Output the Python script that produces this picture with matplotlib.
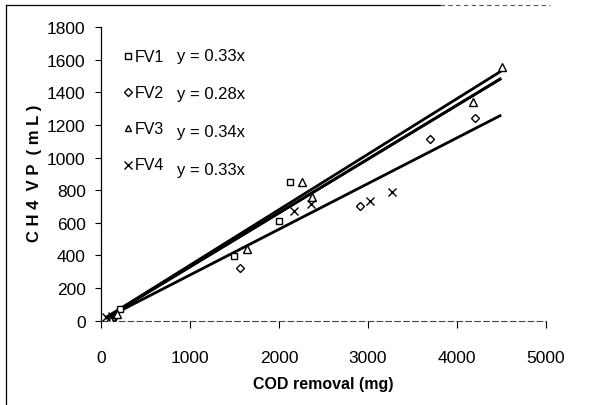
import matplotlib
matplotlib.use("Agg")
import matplotlib.pyplot as plt
from matplotlib.lines import Line2D
import numpy as np

# ---- data ----
fv1_x = [130, 210, 1500, 2000, 2120]
fv1_y = [20, 70, 397, 613, 852]
fv2_x = [150, 1566, 2907, 3694, 4200]
fv2_y = [20, 321, 705, 1114, 1243]
fv3_x = [100, 180, 1641, 2259, 2374, 4188, 4507]
fv3_y = [10, 40, 440, 852, 756, 1339, 1553]
fv4_x = [60, 120, 2173, 2365, 3027, 3271]
fv4_y = [20, 30, 674, 715, 736, 787]
series_names = ["FV1", "FV2", "FV3", "FV4"]
slopes = [0.33, 0.28, 0.34, 0.33]
equations = ["y = 0.33x", "y = 0.28x", "y = 0.34x", "y = 0.33x"]
trend_x = [50, 4500]
x_ticks = [0, 1000, 2000, 3000, 4000, 5000]
y_ticks = [0, 200, 400, 600, 800, 1000, 1200, 1400, 1600, 1800]

plt.rcParams['font.family'] = ['Liberation Sans', 'DejaVu Sans']

fig = plt.figure(figsize=(5.95, 4.06), dpi=100)
ax = fig.add_axes([101/595, 1-321.7/406, (545.7-101)/595, (321.7-28)/406])

markers = ['s', 'D', '^', 'x']
msizes = [5, 4, 5.5, 6]
data = [(fv1_x, fv1_y), (fv2_x, fv2_y), (fv3_x, fv3_y), (fv4_x, fv4_y)]

for k in slopes:
    tx = np.array(trend_x, dtype=float)
    ax.plot(tx, k*tx, color='black', lw=2.0, solid_capstyle='butt', zorder=2)
for (xs, ys), m, ms in zip(data, markers, msizes):
    if m == 'x':
        ax.plot(xs, ys, ls='none', marker=m, ms=ms, mec='black', mew=1.0, zorder=3)
    else:
        ax.plot(xs, ys, ls='none', marker=m, ms=ms, mfc='white', mec='black', mew=1.0, zorder=3)

ax.set_xlim(0, 5000)
ax.set_ylim(0, 1800)
ax.set_xticks(x_ticks)
ax.set_yticks(y_ticks)
ax.tick_params(axis='y', direction='out', length=4, width=0.8, pad=7, labelsize=12.5)
ax.tick_params(axis='x', direction='out', length=5, width=0.8, pad=16, labelsize=12.5)
for s in ['top', 'right']:
    ax.spines[s].set_visible(False)
ax.spines['left'].set_linewidth(0.9)
ax.spines['bottom'].set_linewidth(0.8)
ax.spines['bottom'].set_linestyle((0, (5, 3)))
ax.spines['bottom'].set_color('#444444')

ax.set_xlabel("COD removal (mg)", fontsize=11.5, fontweight='bold', labelpad=8)
fig.text(35/595, 1-173/406, "C H 4  V P  ( m L )", rotation=90, ha='center', va='center',
         fontsize=12, fontweight='bold')

# legend-like annotations
leg_rows = [57, 93, 129, 166]
eq_rows = [57, 95, 132, 170]
for i, (name, eq, m, ms) in enumerate(zip(series_names, equations, markers, msizes)):
    yf = 1 - leg_rows[i]/406
    if m == 'x':
        fig.add_artist(Line2D([127.5/595], [yf], marker=m, ms=ms, mec='black', mew=1.0,
                              ls='none', transform=fig.transFigure))
    else:
        fig.add_artist(Line2D([127.5/595], [yf], marker=m, ms=ms*0.9, mfc='white', mec='black',
                              mew=1.0, ls='none', transform=fig.transFigure))
    fig.text(135/595, yf, name, ha='left', va='center', fontsize=11.5)
    fig.text(177/595, 1 - eq_rows[i]/406, eq, ha='left', va='center', fontsize=12)

# figure border (left and top)
fig.add_artist(Line2D([6/595, 6/595], [0, 1-6/406], color='black', lw=0.9, transform=fig.transFigure))
fig.add_artist(Line2D([6/595, 440/595], [1-6/406, 1-6/406], color='black', lw=0.9, transform=fig.transFigure))
fig.add_artist(Line2D([440/595, 550/595], [1-6/406, 1-6/406], color='#555555', lw=0.8,
                      ls=(0, (4, 3)), transform=fig.transFigure))

fig.savefig("out.png", dpi=100)
